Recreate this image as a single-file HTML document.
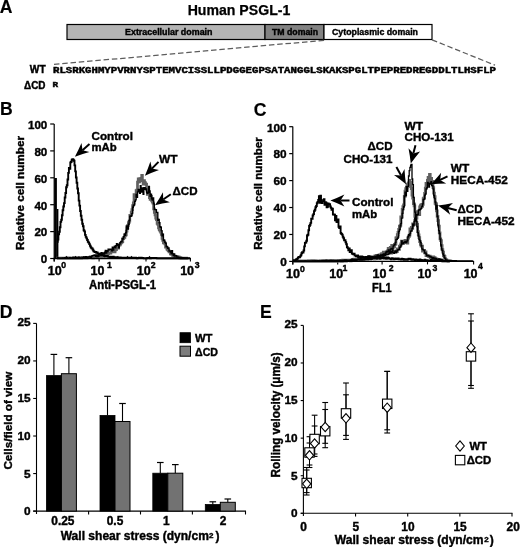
<!DOCTYPE html>
<html><head><meta charset="utf-8"><title>Human PSGL-1 figure</title>
<style>
html,body{margin:0;padding:0;background:#fff;}
svg{display:block;}
text.s{font-family:'Liberation Sans', Arial, Helvetica, sans-serif;font-weight:bold;fill:#000;stroke:#000;stroke-width:0.4px;}
text.m{font-family:'Liberation Mono', 'Courier New', monospace;font-weight:bold;fill:#000;stroke:#000;stroke-width:0.45px;}
</style></head>
<body>
<svg width="520" height="547" viewBox="0 0 520 547">
<rect x="0" y="0" width="520" height="547" fill="#fff"/>
<text class="s" x="-0.2" y="12.5" font-size="17.6" style="stroke-width:0.15px">A</text>
<text class="s" x="187.7" y="14.6" font-size="14" textLength="102.6" lengthAdjust="spacingAndGlyphs" style="stroke-width:0.25px">Human PSGL-1</text>
<rect x="67" y="24.5" width="198" height="15" fill="#b4b4b4" stroke="#000" stroke-width="1.2"/>
<rect x="265" y="24.5" width="59" height="15" fill="#828282" stroke="#000" stroke-width="1.2"/>
<rect x="324" y="24.5" width="108" height="15" fill="#fff" stroke="#000" stroke-width="1.2"/>
<text class="s" x="125" y="35.3" font-size="9" textLength="87.5" lengthAdjust="spacingAndGlyphs">Extracellular domain</text>
<text class="s" x="272" y="35.3" font-size="9" textLength="46" lengthAdjust="spacingAndGlyphs">TM domain</text>
<text class="s" x="332" y="35.3" font-size="9" textLength="86" lengthAdjust="spacingAndGlyphs">Cytoplasmic domain</text>
<line x1="324" y1="40.3" x2="53" y2="64.5" stroke="#5c5c5c" stroke-width="1.25" stroke-dasharray="5.5 2.8"/>
<line x1="432" y1="39.8" x2="495" y2="65.2" stroke="#5c5c5c" stroke-width="1.25" stroke-dasharray="5.5 2.8"/>
<text class="s" x="29.8" y="72.7" font-size="10" textLength="15.8" lengthAdjust="spacingAndGlyphs">WT</text>
<text class="s" x="24" y="88.8" font-size="10" textLength="21.5" lengthAdjust="spacingAndGlyphs">ΔCD</text>
<text class="m" x="53" y="73" font-size="9" textLength="443" lengthAdjust="spacingAndGlyphs">RLSRKGHMYPVRNYSPTEMVCISSLLPDGGEGPSATANGGLSKAKSPGLTPEPREDREGDDLTLHSFLP</text>
<text class="m" x="52.6" y="86.9" font-size="7.8" textLength="5.6" lengthAdjust="spacingAndGlyphs">R</text>
<text class="s" x="0.05" y="115.4" font-size="17.6" style="stroke-width:0.15px">B</text>
<line x1="50.2" y1="258.5" x2="54.2" y2="258.5" stroke="#000" stroke-width="1.2"/>
<text class="s" x="47.3" y="263.3" font-size="11.6" text-anchor="end">0</text>
<line x1="50.2" y1="231.6" x2="54.2" y2="231.6" stroke="#000" stroke-width="1.2"/>
<text class="s" x="47.3" y="236.4" font-size="11.6" text-anchor="end">20</text>
<line x1="50.2" y1="204.7" x2="54.2" y2="204.7" stroke="#000" stroke-width="1.2"/>
<text class="s" x="47.3" y="209.5" font-size="11.6" text-anchor="end">40</text>
<line x1="50.2" y1="177.8" x2="54.2" y2="177.8" stroke="#000" stroke-width="1.2"/>
<text class="s" x="47.3" y="182.6" font-size="11.6" text-anchor="end">60</text>
<line x1="50.2" y1="150.9" x2="54.2" y2="150.9" stroke="#000" stroke-width="1.2"/>
<text class="s" x="47.3" y="155.7" font-size="11.6" text-anchor="end">80</text>
<line x1="50.2" y1="124.0" x2="54.2" y2="124.0" stroke="#000" stroke-width="1.2"/>
<text class="s" x="47.3" y="128.8" font-size="11.6" text-anchor="end">100</text>
<text class="s" font-size="11.7" transform="translate(24.2 250) rotate(-90)" textLength="114" lengthAdjust="spacingAndGlyphs">Relative cell number</text>
<line x1="54.2" y1="258.5" x2="54.2" y2="261.5" stroke="#000" stroke-width="1.1"/>
<line x1="99.1" y1="258.5" x2="99.1" y2="261.5" stroke="#000" stroke-width="1.1"/>
<line x1="146" y1="258.5" x2="146" y2="261.5" stroke="#000" stroke-width="1.1"/>
<line x1="190.4" y1="258.5" x2="190.4" y2="261.5" stroke="#000" stroke-width="1.1"/>
<text class="s" font-size="12.5"><tspan x="47.7" y="274.7">10</tspan><tspan x="61.2" y="268.4" font-size="8.7">0</tspan></text>
<text class="s" font-size="12.5"><tspan x="90.55" y="274.7">10</tspan><tspan x="106.9" y="268.4" font-size="8.7">1</tspan></text>
<text class="s" font-size="12.5"><tspan x="136.85" y="274.7">10</tspan><tspan x="150.7" y="268.4" font-size="8.7">2</tspan></text>
<text class="s" font-size="12.5"><tspan x="180.15" y="274.7">10</tspan><tspan x="194.8" y="268.4" font-size="8.7">3</tspan></text>
<text class="s" x="89" y="289" font-size="12" textLength="67" lengthAdjust="spacingAndGlyphs">Anti-PSGL-1</text>
<line x1="55.6" y1="178" x2="55.6" y2="258.5" stroke="#000" stroke-width="2.6"/>
<line x1="57.6" y1="209" x2="57.6" y2="258.5" stroke="#000" stroke-width="1.6"/>
<polyline fill="none" stroke="#606060" stroke-width="2.7" stroke-linejoin="miter" points="57.0,258.2 57.7,258.2 57.7,258.1 58.4,258.1 58.4,258.2 59.1,258.2 59.1,258.1 59.8,258.1 59.8,258.2 60.5,258.2 60.5,258.2 61.2,258.2 61.2,258.2 61.9,258.2 61.9,258.1 62.6,258.1 62.6,258.1 63.3,258.1 63.3,258.2 64.0,258.2 64.0,258.0 64.7,258.0 64.7,258.2 65.4,258.2 65.4,258.1 66.1,258.1 66.1,258.1 66.8,258.1 66.8,258.2 67.5,258.2 67.5,258.0 68.2,258.0 68.2,258.2 68.9,258.2 68.9,257.8 69.6,257.8 69.6,258.0 70.3,258.0 70.3,258.1 71.0,258.1 71.0,258.2 71.7,258.2 71.7,258.0 72.4,258.0 72.4,258.0 73.1,258.0 73.1,258.2 73.8,258.2 73.8,257.6 74.5,257.6 74.5,258.0 75.2,258.0 75.2,257.7 75.9,257.7 75.9,258.2 76.6,258.2 76.6,257.7 77.3,257.7 77.3,258.2 78.0,258.2 78.0,258.1 78.7,258.1 78.7,257.9 79.4,257.9 79.4,258.0 80.1,258.0 80.1,258.2 80.8,258.2 80.8,258.2 81.5,258.2 81.5,257.7 82.2,257.7 82.2,257.4 82.9,257.4 82.9,257.6 83.6,257.6 83.6,257.8 84.3,257.8 84.3,257.5 85.0,257.5 85.0,258.0 85.7,258.0 85.7,257.5 86.4,257.5 86.4,258.0 87.1,258.0 87.1,257.6 87.8,257.6 87.8,257.6 88.5,257.6 88.5,257.3 89.2,257.3 89.2,257.6 89.9,257.6 89.9,257.1 90.6,257.1 90.6,257.4 91.3,257.4 91.3,257.1 92.0,257.1 92.0,257.1 92.7,257.1 92.7,257.8 93.4,257.8 93.4,257.2 94.1,257.2 94.1,257.2 94.8,257.2 94.8,257.4 95.5,257.4 95.5,257.0 96.2,257.0 96.2,257.4 96.9,257.4 96.9,256.6 97.6,256.6 97.6,256.4 98.3,256.4 98.3,256.4 99.0,256.4 99.0,255.3 99.7,255.3 99.7,256.1 100.4,256.1 100.4,256.0 101.1,256.0 101.1,256.3 101.8,256.3 101.8,255.6 102.5,255.6 102.5,256.1 103.2,256.1 103.2,254.9 103.9,254.9 103.9,255.7 104.6,255.7 104.6,255.1 105.3,255.1 105.3,253.9 106.0,253.9 106.0,254.0 106.7,254.0 106.7,254.2 107.4,254.2 107.4,253.2 108.1,253.2 108.1,253.7 108.8,253.7 108.8,252.8 109.5,252.8 109.5,253.0 110.2,253.0 110.2,253.2 110.9,253.2 110.9,252.0 111.6,252.0 111.6,251.2 112.3,251.2 112.3,251.7 113.0,251.7 113.0,251.8 113.7,251.8 113.7,250.8 114.4,250.8 114.4,251.8 115.1,251.8 115.1,249.8 115.8,249.8 115.8,249.6 116.5,249.6 116.5,246.3 117.2,246.3 117.2,247.9 117.9,247.9 117.9,248.1 118.6,248.1 118.6,244.9 119.3,244.9 119.3,245.1 120.0,245.1 120.0,244.1 120.7,244.1 120.7,243.0 121.4,243.0 121.4,242.1 122.1,242.1 122.1,241.6 122.8,241.6 122.8,238.7 123.5,238.7 123.5,237.8 124.2,237.8 124.2,237.5 124.9,237.5 124.9,235.5 125.6,235.5 125.6,234.8 126.3,234.8 126.3,231.1 127.0,231.1 127.0,227.9 127.7,227.9 127.7,225.4 128.4,225.4 128.4,222.7 129.1,222.7 129.1,221.2 129.8,221.2 129.8,215.3 130.5,215.3 130.5,215.5 131.2,215.5 131.2,212.0 131.9,212.0 131.9,209.6 132.6,209.6 132.6,205.5 133.3,205.5 133.3,202.8 134.0,202.8 134.0,194.5 134.7,194.5 134.7,194.7 135.4,194.7 135.4,196.3 136.1,196.3 136.1,190.6 136.8,190.6 136.8,190.1 137.5,190.1 137.5,182.2 138.2,182.2 138.2,178.9 138.9,178.9 138.9,181.9 139.6,181.9 139.6,178.5 140.3,178.5 140.3,180.1 141.0,180.1 141.0,178.4 141.7,178.4 141.7,175.3 142.4,175.3 142.4,181.0 143.1,181.0 143.1,184.1 143.8,184.1 143.8,180.5 144.5,180.5 144.5,182.4 145.2,182.4 145.2,183.6 145.9,183.6 145.9,184.3 146.6,184.3 146.6,189.8 147.3,189.8 147.3,194.3 148.0,194.3 148.0,189.0 148.7,189.0 148.7,194.1 149.4,194.1 149.4,197.7 150.1,197.7 150.1,199.5 150.8,199.5 150.8,196.4 151.5,196.4 151.5,200.3 152.2,200.3 152.2,202.0 152.9,202.0 152.9,203.1 153.6,203.1 153.6,208.8 154.3,208.8 154.3,212.5 155.0,212.5 155.0,214.9 155.7,214.9 155.7,218.2 156.4,218.2 156.4,219.6 157.1,219.6 157.1,223.3 157.8,223.3 157.8,224.4 158.5,224.4 158.5,227.8 159.2,227.8 159.2,229.6 159.9,229.6 159.9,230.9 160.6,230.9 160.6,232.2 161.3,232.2 161.3,234.3 162.0,234.3 162.0,238.4 162.7,238.4 162.7,240.3 163.4,240.3 163.4,242.9 164.1,242.9 164.1,242.8 164.8,242.8 164.8,243.8 165.5,243.8 165.5,247.2 166.2,247.2 166.2,247.2 166.9,247.2 166.9,249.2 167.6,249.2 167.6,250.0 168.3,250.0 168.3,250.7 169.0,250.7 169.0,251.9 169.7,251.9 169.7,251.8 170.4,251.8 170.4,254.0 171.1,254.0 171.1,254.1 171.8,254.1 171.8,254.3 172.5,254.3 172.5,255.3 173.2,255.3 173.2,255.0 173.9,255.0 173.9,256.3 174.6,256.3 174.6,256.0 175.3,256.0 175.3,257.0 176.0,257.0 176.0,256.8 176.7,256.8 176.7,256.9 177.4,256.9 177.4,256.6 178.1,256.6 178.1,257.1 178.8,257.1 178.8,257.2 179.5,257.2 179.5,257.8 180.2,257.8 180.2,257.5 180.9,257.5 180.9,258.1 181.6,258.1 181.6,258.1 182.3,258.1 182.3,258.2 183.0,258.2 183.0,258.1 183.7,258.1 183.7,258.1 184.4,258.1 184.4,258.2 185.1,258.2 185.1,258.2 185.8,258.2 185.8,258.2 186.5,258.2 186.5,258.2 187.2,258.2 187.2,258.2 187.9,258.2 187.9,258.2"/>
<polyline fill="none" stroke="#000" stroke-width="1.4" stroke-linejoin="miter" points="57.0,257.6 57.7,257.6 57.7,258.0 58.4,258.0 58.4,258.1 59.1,258.1 59.1,258.2 59.8,258.2 59.8,258.1 60.5,258.1 60.5,258.1 61.2,258.1 61.2,258.1 61.9,258.1 61.9,258.2 62.6,258.2 62.6,258.0 63.3,258.0 63.3,258.2 64.0,258.2 64.0,258.2 64.7,258.2 64.7,257.8 65.4,257.8 65.4,257.8 66.1,257.8 66.1,257.5 66.8,257.5 66.8,258.0 67.5,258.0 67.5,258.1 68.2,258.1 68.2,258.1 68.9,258.1 68.9,258.2 69.6,258.2 69.6,257.7 70.3,257.7 70.3,258.2 71.0,258.2 71.0,258.2 71.7,258.2 71.7,258.0 72.4,258.0 72.4,257.5 73.1,257.5 73.1,257.8 73.8,257.8 73.8,258.2 74.5,258.2 74.5,258.1 75.2,258.1 75.2,257.7 75.9,257.7 75.9,257.9 76.6,257.9 76.6,258.1 77.3,258.1 77.3,257.9 78.0,257.9 78.0,257.6 78.7,257.6 78.7,257.2 79.4,257.2 79.4,258.2 80.1,258.2 80.1,258.0 80.8,258.0 80.8,258.0 81.5,258.0 81.5,258.2 82.2,258.2 82.2,257.9 82.9,257.9 82.9,257.8 83.6,257.8 83.6,256.9 84.3,256.9 84.3,257.3 85.0,257.3 85.0,257.9 85.7,257.9 85.7,256.8 86.4,256.8 86.4,257.1 87.1,257.1 87.1,257.7 87.8,257.7 87.8,257.1 88.5,257.1 88.5,257.0 89.2,257.0 89.2,257.1 89.9,257.1 89.9,256.5 90.6,256.5 90.6,257.7 91.3,257.7 91.3,256.5 92.0,256.5 92.0,255.6 92.7,255.6 92.7,255.6 93.4,255.6 93.4,255.3 94.1,255.3 94.1,255.2 94.8,255.2 94.8,254.9 95.5,254.9 95.5,256.4 96.2,256.4 96.2,254.9 96.9,254.9 96.9,256.6 97.6,256.6 97.6,255.5 98.3,255.5 98.3,256.3 99.0,256.3 99.0,253.9 99.7,253.9 99.7,253.5 100.4,253.5 100.4,254.4 101.1,254.4 101.1,252.6 101.8,252.6 101.8,254.3 102.5,254.3 102.5,253.3 103.2,253.3 103.2,253.0 103.9,253.0 103.9,253.9 104.6,253.9 104.6,252.2 105.3,252.2 105.3,250.4 106.0,250.4 106.0,253.0 106.7,253.0 106.7,250.7 107.4,250.7 107.4,251.5 108.1,251.5 108.1,249.1 108.8,249.1 108.8,250.1 109.5,250.1 109.5,249.5 110.2,249.5 110.2,249.2 110.9,249.2 110.9,249.3 111.6,249.3 111.6,250.9 112.3,250.9 112.3,247.1 113.0,247.1 113.0,250.0 113.7,250.0 113.7,247.4 114.4,247.4 114.4,246.3 115.1,246.3 115.1,247.7 115.8,247.7 115.8,245.8 116.5,245.8 116.5,243.8 117.2,243.8 117.2,244.8 117.9,244.8 117.9,245.4 118.6,245.4 118.6,247.8 119.3,247.8 119.3,244.1 120.0,244.1 120.0,242.8 120.7,242.8 120.7,241.9 121.4,241.9 121.4,241.8 122.1,241.8 122.1,238.6 122.8,238.6 122.8,239.0 123.5,239.0 123.5,236.8 124.2,236.8 124.2,234.0 124.9,234.0 124.9,235.4 125.6,235.4 125.6,232.8 126.3,232.8 126.3,226.0 127.0,226.0 127.0,226.5 127.7,226.5 127.7,229.1 128.4,229.1 128.4,224.2 129.1,224.2 129.1,220.4 129.8,220.4 129.8,216.3 130.5,216.3 130.5,216.4 131.2,216.4 131.2,215.6 131.9,215.6 131.9,213.6 132.6,213.6 132.6,207.2 133.3,207.2 133.3,205.3 134.0,205.3 134.0,204.9 134.7,204.9 134.7,201.4 135.4,201.4 135.4,199.9 136.1,199.9 136.1,194.5 136.8,194.5 136.8,197.2 137.5,197.2 137.5,191.9 138.2,191.9 138.2,189.5 138.9,189.5 138.9,189.6 139.6,189.6 139.6,193.2 140.3,193.2 140.3,185.8 141.0,185.8 141.0,192.0 141.7,192.0 141.7,188.0 142.4,188.0 142.4,191.4 143.1,191.4 143.1,194.3 143.8,194.3 143.8,187.7 144.5,187.7 144.5,187.7 145.2,187.7 145.2,189.4 145.9,189.4 145.9,188.9 146.6,188.9 146.6,192.5 147.3,192.5 147.3,193.4 148.0,193.4 148.0,192.3 148.7,192.3 148.7,186.5 149.4,186.5 149.4,190.9 150.1,190.9 150.1,196.2 150.8,196.2 150.8,194.1 151.5,194.1 151.5,198.7 152.2,198.7 152.2,200.1 152.9,200.1 152.9,197.9 153.6,197.9 153.6,203.9 154.3,203.9 154.3,209.4 155.0,209.4 155.0,209.6 155.7,209.6 155.7,209.7 156.4,209.7 156.4,212.5 157.1,212.5 157.1,212.5 157.8,212.5 157.8,220.2 158.5,220.2 158.5,219.4 159.2,219.4 159.2,222.8 159.9,222.8 159.9,226.7 160.6,226.7 160.6,227.2 161.3,227.2 161.3,230.6 162.0,230.6 162.0,235.7 162.7,235.7 162.7,234.3 163.4,234.3 163.4,240.5 164.1,240.5 164.1,240.3 164.8,240.3 164.8,242.2 165.5,242.2 165.5,243.3 166.2,243.3 166.2,246.5 166.9,246.5 166.9,246.9 167.6,246.9 167.6,248.3 168.3,248.3 168.3,248.0 169.0,248.0 169.0,251.1 169.7,251.1 169.7,250.9 170.4,250.9 170.4,252.0 171.1,252.0 171.1,253.7 171.8,253.7 171.8,250.7 172.5,250.7 172.5,253.9 173.2,253.9 173.2,255.6 173.9,255.6 173.9,253.9 174.6,253.9 174.6,256.1 175.3,256.1 175.3,255.6 176.0,255.6 176.0,255.6 176.7,255.6 176.7,256.9 177.4,256.9 177.4,257.0 178.1,257.0 178.1,257.4 178.8,257.4 178.8,257.4 179.5,257.4 179.5,258.1 180.2,258.1 180.2,258.1 180.9,258.1 180.9,257.9 181.6,257.9 181.6,257.7 182.3,257.7 182.3,257.9 183.0,257.9 183.0,257.8 183.7,257.8 183.7,258.1 184.4,258.1 184.4,258.2 185.1,258.2 185.1,258.2 185.8,258.2 185.8,258.2 186.5,258.2 186.5,258.2 187.2,258.2 187.2,258.2 187.9,258.2 187.9,258.2"/>
<polyline fill="none" stroke="#000" stroke-width="1.9" stroke-linejoin="miter" points="57.0,241.8 57.7,241.8 57.7,239.6 58.4,239.6 58.4,234.2 59.1,234.2 59.1,231.8 59.8,231.8 59.8,227.3 60.5,227.3 60.5,221.9 61.2,221.9 61.2,219.8 61.9,219.8 61.9,215.3 62.6,215.3 62.6,210.3 63.3,210.3 63.3,206.5 64.0,206.5 64.0,203.1 64.7,203.1 64.7,197.5 65.4,197.5 65.4,193.0 66.1,193.0 66.1,187.2 66.8,187.2 66.8,185.2 67.5,185.2 67.5,179.5 68.2,179.5 68.2,172.9 68.9,172.9 68.9,167.9 69.6,167.9 69.6,168.7 70.3,168.7 70.3,162.4 71.0,162.4 71.0,161.7 71.7,161.7 71.7,159.6 72.4,159.6 72.4,159.2 73.1,159.2 73.1,159.8 73.8,159.8 73.8,160.7 74.5,160.7 74.5,165.4 75.2,165.4 75.2,171.4 75.9,171.4 75.9,177.5 76.6,177.5 76.6,182.7 77.3,182.7 77.3,188.5 78.0,188.5 78.0,193.3 78.7,193.3 78.7,200.6 79.4,200.6 79.4,205.6 80.1,205.6 80.1,211.0 80.8,211.0 80.8,215.7 81.5,215.7 81.5,219.8 82.2,219.8 82.2,223.8 82.9,223.8 82.9,226.3 83.6,226.3 83.6,230.2 84.3,230.2 84.3,231.4 85.0,231.4 85.0,234.9 85.7,234.9 85.7,236.9 86.4,236.9 86.4,238.4 87.1,238.4 87.1,240.0 87.8,240.0 87.8,241.7 88.5,241.7 88.5,242.6 89.2,242.6 89.2,244.1 89.9,244.1 89.9,245.8 90.6,245.8 90.6,247.3 91.3,247.3 91.3,248.2 92.0,248.2 92.0,248.5 92.7,248.5 92.7,249.8 93.4,249.8 93.4,251.2 94.1,251.2 94.1,251.6 94.8,251.6 94.8,252.1 95.5,252.1 95.5,252.0 96.2,252.0 96.2,252.9 96.9,252.9 96.9,252.5 97.6,252.5 97.6,253.4 98.3,253.4 98.3,253.9 99.0,253.9 99.0,254.4 99.7,254.4 99.7,254.3 100.4,254.3 100.4,254.9 101.1,254.9 101.1,255.2 101.8,255.2 101.8,255.1 102.5,255.1 102.5,255.4 103.2,255.4 103.2,255.3 103.9,255.3 103.9,255.8 104.6,255.8 104.6,256.6 105.3,256.6 105.3,255.9 106.0,255.9 106.0,256.6 106.7,256.6 106.7,256.0 107.4,256.0 107.4,256.1 108.1,256.1 108.1,256.7 108.8,256.7 108.8,256.9 109.5,256.9 109.5,257.0 110.2,257.0 110.2,256.7 110.9,256.7 110.9,257.0 111.6,257.0 111.6,257.1 112.3,257.1 112.3,257.1 113.0,257.1 113.0,256.8 113.7,256.8 113.7,257.1 114.4,257.1 114.4,257.1 115.1,257.1 115.1,257.2 115.8,257.2 115.8,257.2 116.5,257.2 116.5,257.3 117.2,257.3 117.2,257.6 117.9,257.6 117.9,257.6 118.6,257.6 118.6,257.7 119.3,257.7 119.3,257.7 120.0,257.7 120.0,257.5 120.7,257.5 120.7,257.8 121.4,257.8 121.4,257.7 122.1,257.7 122.1,257.8 122.8,257.8 122.8,257.8 123.5,257.8 123.5,257.6 124.2,257.6 124.2,257.8 124.9,257.8 124.9,257.8 125.6,257.8 125.6,257.7 126.3,257.7 126.3,257.7 127.0,257.7 127.0,257.7 127.7,257.7 127.7,257.8 128.4,257.8 128.4,258.0 129.1,258.0 129.1,257.7 129.8,257.7 129.8,257.8 130.5,257.8 130.5,257.7 131.2,257.7 131.2,257.9 131.9,257.9 131.9,257.6 132.6,257.6 132.6,258.0 133.3,258.0 133.3,257.8 134.0,257.8 134.0,257.9 134.7,257.9 134.7,257.9 135.4,257.9 135.4,257.8 136.1,257.8 136.1,257.9 136.8,257.9 136.8,258.2 137.5,258.2 137.5,258.1 138.2,258.1 138.2,257.9 138.9,257.9 138.9,257.7 139.6,257.7 139.6,258.1 140.3,258.1 140.3,258.0 141.0,258.0 141.0,257.8 141.7,257.8 141.7,257.9 142.4,257.9 142.4,258.0 143.1,258.0 143.1,258.1 143.8,258.1 143.8,258.2 144.5,258.2 144.5,258.1 145.2,258.1 145.2,258.1 145.9,258.1 145.9,258.2 146.6,258.2 146.6,258.2 147.3,258.2 147.3,258.0 148.0,258.0 148.0,258.1 148.7,258.1 148.7,258.1 149.4,258.1 149.4,258.1 150.1,258.1 150.1,258.2 150.8,258.2 150.8,258.0 151.5,258.0 151.5,258.0 152.2,258.0 152.2,257.9 152.9,257.9 152.9,258.1 153.6,258.1 153.6,258.1 154.3,258.1 154.3,258.0 155.0,258.0 155.0,258.0 155.7,258.0 155.7,258.0 156.4,258.0 156.4,258.1 157.1,258.1 157.1,258.2 157.8,258.2 157.8,258.2 158.5,258.2 158.5,258.1 159.2,258.1 159.2,258.2 159.9,258.2 159.9,258.2 160.6,258.2 160.6,258.2 161.3,258.2 161.3,258.2 162.0,258.2 162.0,258.1 162.7,258.1 162.7,258.2 163.4,258.2 163.4,258.2 164.1,258.2 164.1,258.2 164.8,258.2 164.8,258.2 165.5,258.2 165.5,258.2 166.2,258.2 166.2,258.1 166.9,258.1 166.9,258.2 167.6,258.2 167.6,258.2 168.3,258.2 168.3,258.2 169.0,258.2 169.0,258.2 169.7,258.2 169.7,258.2 170.4,258.2 170.4,258.2 171.1,258.2 171.1,258.2 171.8,258.2 171.8,258.2 172.5,258.2 172.5,258.2 173.2,258.2 173.2,258.2 173.9,258.2 173.9,258.2 174.6,258.2 174.6,258.2 175.3,258.2 175.3,258.2 176.0,258.2 176.0,258.2 176.7,258.2 176.7,258.2 177.4,258.2 177.4,258.2 178.1,258.2 178.1,258.2 178.8,258.2 178.8,258.2 179.5,258.2 179.5,258.2 180.2,258.2 180.2,258.2 180.9,258.2 180.9,258.2 181.6,258.2 181.6,258.2 182.3,258.2 182.3,258.2 183.0,258.2 183.0,258.2 183.7,258.2 183.7,258.2 184.4,258.2 184.4,258.2 185.1,258.2 185.1,258.2 185.8,258.2 185.8,258.2 186.5,258.2 186.5,258.2 187.2,258.2 187.2,258.2 187.9,258.2 187.9,258.2 188.6,258.2 188.6,258.2 189.3,258.2 189.3,258.2 190.0,258.2 190.0,258.2"/>
<polygon points="64.5,258.5 66.5,255.7 68.5,258.5" fill="#000"/>
<polygon points="73.5,258.5 75.5,255.7 77.5,258.5" fill="#000"/>
<polygon points="116,258.5 118,255.7 120,258.5" fill="#000"/>
<polygon points="125.5,258.5 127.5,255.7 129.5,258.5" fill="#000"/>
<polygon points="129.5,258.5 131.5,255.7 133.5,258.5" fill="#000"/>
<polygon points="147.5,258.5 149.5,255.7 151.5,258.5" fill="#000"/>
<line x1="54.2" y1="124" x2="54.2" y2="261.5" stroke="#000" stroke-width="1.2"/>
<line x1="53.6" y1="258.5" x2="191" y2="258.5" stroke="#000" stroke-width="1.3"/>
<text class="s" x="91.5" y="140" font-size="11.5" textLength="41.5" lengthAdjust="spacingAndGlyphs">Control</text>
<text class="s" x="91.5" y="151.3" font-size="11.5" textLength="25.3" lengthAdjust="spacingAndGlyphs">mAb</text>
<line x1="89.5" y1="144" x2="82.5" y2="150.2" stroke="#000" stroke-width="2.0"/>
<path d="M74.9,156.8 Q78.4,150.2 81.5,143.1 L82.5,150.2 L89.4,152.1 Q81.9,154.2 74.9,156.8Z" fill="#000"/>
<text class="s" x="159" y="162.5" font-size="11.5" textLength="18.5" lengthAdjust="spacingAndGlyphs">WT</text>
<line x1="158.5" y1="161.9" x2="151.9" y2="168.6" stroke="#000" stroke-width="2.0"/>
<path d="M144.9,175.8 Q147.9,169.0 150.4,161.6 L151.9,168.6 L159.0,170.0 Q151.7,172.6 144.9,175.8Z" fill="#000"/>
<text class="s" x="172.5" y="195" font-size="11.5" textLength="25" lengthAdjust="spacingAndGlyphs">ΔCD</text>
<line x1="170.8" y1="194.2" x2="163.2" y2="199.5" stroke="#000" stroke-width="2.0"/>
<path d="M155.0,205.3 Q159.2,199.1 163.0,192.3 L163.2,199.5 L169.9,202.2 Q162.2,203.4 155.0,205.3Z" fill="#000"/>
<text class="s" x="253.8" y="115.5" font-size="17.6" style="stroke-width:0.15px">C</text>
<line x1="289.2" y1="261.4" x2="292.8" y2="261.4" stroke="#000" stroke-width="1.2"/>
<text class="s" x="286.7" y="266.2" font-size="11.8" text-anchor="end">0</text>
<line x1="289.2" y1="234.45999999999998" x2="292.8" y2="234.45999999999998" stroke="#000" stroke-width="1.2"/>
<text class="s" x="286.7" y="239.3" font-size="11.8" text-anchor="end">20</text>
<line x1="289.2" y1="207.51999999999998" x2="292.8" y2="207.51999999999998" stroke="#000" stroke-width="1.2"/>
<text class="s" x="286.7" y="212.3" font-size="11.8" text-anchor="end">40</text>
<line x1="289.2" y1="180.57999999999998" x2="292.8" y2="180.57999999999998" stroke="#000" stroke-width="1.2"/>
<text class="s" x="286.7" y="185.4" font-size="11.8" text-anchor="end">60</text>
<line x1="289.2" y1="153.64" x2="292.8" y2="153.64" stroke="#000" stroke-width="1.2"/>
<text class="s" x="286.7" y="158.4" font-size="11.8" text-anchor="end">80</text>
<line x1="289.2" y1="126.69999999999999" x2="292.8" y2="126.69999999999999" stroke="#000" stroke-width="1.2"/>
<text class="s" x="286.7" y="131.5" font-size="11.8" text-anchor="end">100</text>
<text class="s" font-size="11.7" transform="translate(261.9 249.8) rotate(-90)" textLength="112.5" lengthAdjust="spacingAndGlyphs">Relative cell number</text>
<line x1="292.8" y1="261.4" x2="292.8" y2="264.4" stroke="#000" stroke-width="1.1"/>
<line x1="337.7" y1="261.4" x2="337.7" y2="264.4" stroke="#000" stroke-width="1.1"/>
<line x1="382.1" y1="261.4" x2="382.1" y2="264.4" stroke="#000" stroke-width="1.1"/>
<line x1="427.5" y1="261.4" x2="427.5" y2="264.4" stroke="#000" stroke-width="1.1"/>
<line x1="473.6" y1="261.4" x2="473.6" y2="264.4" stroke="#000" stroke-width="1.1"/>
<text class="s" font-size="12.5"><tspan x="286.05" y="277.7">10</tspan><tspan x="299.9" y="271.6" font-size="8.7">0</tspan></text>
<text class="s" font-size="12.5"><tspan x="329.25" y="277.7">10</tspan><tspan x="342.6" y="271.2" font-size="8.7">1</tspan></text>
<text class="s" font-size="12.5"><tspan x="372.45" y="277.7">10</tspan><tspan x="388.7" y="271.2" font-size="8.7">2</tspan></text>
<text class="s" font-size="12.5"><tspan x="417.55" y="277.7">10</tspan><tspan x="432.4" y="271.2" font-size="8.7">3</tspan></text>
<text class="s" font-size="12.5"><tspan x="463.65" y="277.7">10</tspan><tspan x="478.1" y="269.2" font-size="8.7">4</tspan></text>
<text class="s" x="372" y="292.3" font-size="12" textLength="19.5" lengthAdjust="spacingAndGlyphs">FL1</text>
<polyline fill="none" stroke="#606060" stroke-width="2.8" stroke-linejoin="miter" points="293.0,261.1 293.7,261.1 293.7,261.1 294.4,261.1 294.4,261.1 295.1,261.1 295.1,261.1 295.8,261.1 295.8,261.1 296.5,261.1 296.5,261.1 297.2,261.1 297.2,261.1 297.9,261.1 297.9,261.1 298.6,261.1 298.6,261.1 299.3,261.1 299.3,261.1 300.0,261.1 300.0,261.1 300.7,261.1 300.7,261.1 301.4,261.1 301.4,261.1 302.1,261.1 302.1,261.1 302.8,261.1 302.8,261.1 303.5,261.1 303.5,261.1 304.2,261.1 304.2,261.1 304.9,261.1 304.9,261.1 305.6,261.1 305.6,261.1 306.3,261.1 306.3,261.1 307.0,261.1 307.0,261.1 307.7,261.1 307.7,261.1 308.4,261.1 308.4,261.0 309.1,261.0 309.1,261.0 309.8,261.0 309.8,261.1 310.5,261.1 310.5,261.1 311.2,261.1 311.2,261.0 311.9,261.0 311.9,261.0 312.6,261.0 312.6,261.1 313.3,261.1 313.3,261.1 314.0,261.1 314.0,261.1 314.7,261.1 314.7,261.1 315.4,261.1 315.4,260.9 316.1,260.9 316.1,261.1 316.8,261.1 316.8,261.1 317.5,261.1 317.5,261.1 318.2,261.1 318.2,261.1 318.9,261.1 318.9,261.1 319.6,261.1 319.6,261.1 320.3,261.1 320.3,261.1 321.0,261.1 321.0,261.1 321.7,261.1 321.7,261.1 322.4,261.1 322.4,261.0 323.1,261.0 323.1,261.1 323.8,261.1 323.8,260.6 324.5,260.6 324.5,261.0 325.2,261.0 325.2,260.7 325.9,260.7 325.9,260.6 326.6,260.6 326.6,260.9 327.3,260.9 327.3,261.1 328.0,261.1 328.0,261.1 328.7,261.1 328.7,261.1 329.4,261.1 329.4,260.9 330.1,260.9 330.1,260.8 330.8,260.8 330.8,261.0 331.5,261.0 331.5,261.0 332.2,261.0 332.2,260.3 332.9,260.3 332.9,260.8 333.6,260.8 333.6,261.1 334.3,261.1 334.3,260.7 335.0,260.7 335.0,261.0 335.7,261.0 335.7,261.1 336.4,261.1 336.4,260.7 337.1,260.7 337.1,260.9 337.8,260.9 337.8,260.8 338.5,260.8 338.5,260.4 339.2,260.4 339.2,260.7 339.9,260.7 339.9,260.9 340.6,260.9 340.6,260.3 341.3,260.3 341.3,261.1 342.0,261.1 342.0,260.9 342.7,260.9 342.7,260.2 343.4,260.2 343.4,260.1 344.1,260.1 344.1,260.5 344.8,260.5 344.8,260.6 345.5,260.6 345.5,260.2 346.2,260.2 346.2,260.2 346.9,260.2 346.9,260.1 347.6,260.1 347.6,260.3 348.3,260.3 348.3,260.5 349.0,260.5 349.0,260.3 349.7,260.3 349.7,260.1 350.4,260.1 350.4,260.1 351.1,260.1 351.1,260.1 351.8,260.1 351.8,259.9 352.5,259.9 352.5,260.4 353.2,260.4 353.2,259.4 353.9,259.4 353.9,259.1 354.6,259.1 354.6,259.8 355.3,259.8 355.3,260.1 356.0,260.1 356.0,259.3 356.7,259.3 356.7,259.2 357.4,259.2 357.4,259.4 358.1,259.4 358.1,258.9 358.8,258.9 358.8,259.4 359.5,259.4 359.5,259.6 360.2,259.6 360.2,258.5 360.9,258.5 360.9,259.3 361.6,259.3 361.6,259.2 362.3,259.2 362.3,259.9 363.0,259.9 363.0,259.0 363.7,259.0 363.7,259.1 364.4,259.1 364.4,258.8 365.1,258.8 365.1,258.3 365.8,258.3 365.8,258.5 366.5,258.5 366.5,259.0 367.2,259.0 367.2,257.7 367.9,257.7 367.9,257.9 368.6,257.9 368.6,257.7 369.3,257.7 369.3,257.9 370.0,257.9 370.0,257.7 370.7,257.7 370.7,258.3 371.4,258.3 371.4,258.3 372.1,258.3 372.1,257.7 372.8,257.7 372.8,257.6 373.5,257.6 373.5,256.9 374.2,256.9 374.2,258.8 374.9,258.8 374.9,257.0 375.6,257.0 375.6,257.0 376.3,257.0 376.3,255.5 377.0,255.5 377.0,256.3 377.7,256.3 377.7,256.0 378.4,256.0 378.4,255.3 379.1,255.3 379.1,254.8 379.8,254.8 379.8,256.2 380.5,256.2 380.5,255.5 381.2,255.5 381.2,253.8 381.9,253.8 381.9,253.7 382.6,253.7 382.6,253.7 383.3,253.7 383.3,252.2 384.0,252.2 384.0,254.4 384.7,254.4 384.7,252.8 385.4,252.8 385.4,252.9 386.1,252.9 386.1,251.8 386.8,251.8 386.8,252.3 387.5,252.3 387.5,251.0 388.2,251.0 388.2,248.4 388.9,248.4 388.9,249.7 389.6,249.7 389.6,249.6 390.3,249.6 390.3,247.5 391.0,247.5 391.0,247.7 391.7,247.7 391.7,245.3 392.4,245.3 392.4,247.5 393.1,247.5 393.1,246.8 393.8,246.8 393.8,246.9 394.5,246.9 394.5,244.4 395.2,244.4 395.2,244.2 395.9,244.2 395.9,238.0 396.6,238.0 396.6,237.7 397.3,237.7 397.3,234.7 398.0,234.7 398.0,232.4 398.7,232.4 398.7,229.4 399.4,229.4 399.4,226.5 400.1,226.5 400.1,225.4 400.8,225.4 400.8,216.9 401.5,216.9 401.5,217.2 402.2,217.2 402.2,209.3 402.9,209.3 402.9,206.7 403.6,206.7 403.6,204.9 404.3,204.9 404.3,196.5 405.0,196.5 405.0,191.2 405.7,191.2 405.7,188.7 406.4,188.7 406.4,187.1 407.1,187.1 407.1,184.5 407.8,184.5 407.8,184.0 408.5,184.0 408.5,182.8 409.2,182.8 409.2,180.5 409.9,180.5 409.9,182.1 410.6,182.1 410.6,186.6 411.3,186.6 411.3,188.5 412.0,188.5 412.0,195.2 412.7,195.2 412.7,198.1 413.4,198.1 413.4,203.7 414.1,203.7 414.1,205.9 414.8,205.9 414.8,216.4 415.5,216.4 415.5,214.1 416.2,214.1 416.2,222.7 416.9,222.7 416.9,224.4 417.6,224.4 417.6,231.6 418.3,231.6 418.3,234.9 419.0,234.9 419.0,237.6 419.7,237.6 419.7,241.7 420.4,241.7 420.4,244.4 421.1,244.4 421.1,246.1 421.8,246.1 421.8,246.2 422.5,246.2 422.5,251.1 423.2,251.1 423.2,250.7 423.9,250.7 423.9,250.4 424.6,250.4 424.6,252.8 425.3,252.8 425.3,252.0 426.0,252.0 426.0,255.6 426.7,255.6 426.7,255.5 427.4,255.5 427.4,255.3 428.1,255.3 428.1,256.1 428.8,256.1 428.8,256.5 429.5,256.5 429.5,256.1 430.2,256.1 430.2,257.5 430.9,257.5 430.9,257.0 431.6,257.0 431.6,257.4 432.3,257.4 432.3,257.9 433.0,257.9 433.0,257.0 433.7,257.0 433.7,258.6 434.4,258.6 434.4,257.6 435.1,257.6 435.1,259.1 435.8,259.1 435.8,258.8 436.5,258.8 436.5,259.1 437.2,259.1 437.2,259.7 437.9,259.7 437.9,259.3 438.6,259.3 438.6,259.3 439.3,259.3 439.3,259.7 440.0,259.7 440.0,260.1 440.7,260.1 440.7,259.8 441.4,259.8 441.4,260.1 442.1,260.1 442.1,260.3 442.8,260.3 442.8,261.1 443.5,261.1 443.5,260.6 444.2,260.6 444.2,260.5 444.9,260.5 444.9,261.0 445.6,261.0 445.6,261.1 446.3,261.1 446.3,261.1 447.0,261.1 447.0,261.1 447.7,261.1 447.7,261.1 448.4,261.1 448.4,261.1 449.1,261.1 449.1,261.1 449.8,261.1 449.8,261.1"/>
<polyline fill="none" stroke="#606060" stroke-width="2.8" stroke-linejoin="miter" points="293.0,261.1 293.7,261.1 293.7,261.1 294.4,261.1 294.4,261.1 295.1,261.1 295.1,261.1 295.8,261.1 295.8,261.1 296.5,261.1 296.5,261.1 297.2,261.1 297.2,261.1 297.9,261.1 297.9,261.1 298.6,261.1 298.6,261.1 299.3,261.1 299.3,261.1 300.0,261.1 300.0,261.1 300.7,261.1 300.7,261.1 301.4,261.1 301.4,261.1 302.1,261.1 302.1,261.1 302.8,261.1 302.8,261.1 303.5,261.1 303.5,261.1 304.2,261.1 304.2,261.1 304.9,261.1 304.9,261.1 305.6,261.1 305.6,261.1 306.3,261.1 306.3,261.1 307.0,261.1 307.0,261.1 307.7,261.1 307.7,261.1 308.4,261.1 308.4,261.1 309.1,261.1 309.1,261.1 309.8,261.1 309.8,261.1 310.5,261.1 310.5,261.1 311.2,261.1 311.2,261.1 311.9,261.1 311.9,261.0 312.6,261.0 312.6,261.0 313.3,261.0 313.3,261.0 314.0,261.0 314.0,261.1 314.7,261.1 314.7,261.1 315.4,261.1 315.4,261.1 316.1,261.1 316.1,261.1 316.8,261.1 316.8,261.1 317.5,261.1 317.5,261.1 318.2,261.1 318.2,261.1 318.9,261.1 318.9,261.1 319.6,261.1 319.6,261.1 320.3,261.1 320.3,260.8 321.0,260.8 321.0,261.0 321.7,261.0 321.7,261.1 322.4,261.1 322.4,260.9 323.1,260.9 323.1,261.1 323.8,261.1 323.8,261.1 324.5,261.1 324.5,260.8 325.2,260.8 325.2,261.1 325.9,261.1 325.9,261.1 326.6,261.1 326.6,261.1 327.3,261.1 327.3,260.7 328.0,260.7 328.0,260.6 328.7,260.6 328.7,260.9 329.4,260.9 329.4,260.6 330.1,260.6 330.1,261.1 330.8,261.1 330.8,261.0 331.5,261.0 331.5,260.7 332.2,260.7 332.2,261.0 332.9,261.0 332.9,260.9 333.6,260.9 333.6,260.9 334.3,260.9 334.3,260.8 335.0,260.8 335.0,260.9 335.7,260.9 335.7,261.1 336.4,261.1 336.4,261.0 337.1,261.0 337.1,261.0 337.8,261.0 337.8,260.8 338.5,260.8 338.5,261.1 339.2,261.1 339.2,261.0 339.9,261.0 339.9,260.6 340.6,260.6 340.6,260.8 341.3,260.8 341.3,260.3 342.0,260.3 342.0,260.8 342.7,260.8 342.7,261.1 343.4,261.1 343.4,260.6 344.1,260.6 344.1,260.8 344.8,260.8 344.8,260.9 345.5,260.9 345.5,261.1 346.2,261.1 346.2,260.8 346.9,260.8 346.9,260.6 347.6,260.6 347.6,260.7 348.3,260.7 348.3,260.7 349.0,260.7 349.0,260.6 349.7,260.6 349.7,260.7 350.4,260.7 350.4,260.9 351.1,260.9 351.1,260.5 351.8,260.5 351.8,260.4 352.5,260.4 352.5,259.8 353.2,259.8 353.2,260.3 353.9,260.3 353.9,260.5 354.6,260.5 354.6,259.7 355.3,259.7 355.3,259.8 356.0,259.8 356.0,260.1 356.7,260.1 356.7,260.2 357.4,260.2 357.4,259.2 358.1,259.2 358.1,260.3 358.8,260.3 358.8,259.8 359.5,259.8 359.5,259.3 360.2,259.3 360.2,259.8 360.9,259.8 360.9,259.3 361.6,259.3 361.6,259.0 362.3,259.0 362.3,259.2 363.0,259.2 363.0,259.5 363.7,259.5 363.7,259.2 364.4,259.2 364.4,258.8 365.1,258.8 365.1,258.2 365.8,258.2 365.8,259.1 366.5,259.1 366.5,257.8 367.2,257.8 367.2,258.8 367.9,258.8 367.9,257.6 368.6,257.6 368.6,257.1 369.3,257.1 369.3,257.5 370.0,257.5 370.0,258.1 370.7,258.1 370.7,257.1 371.4,257.1 371.4,257.2 372.1,257.2 372.1,257.5 372.8,257.5 372.8,257.8 373.5,257.8 373.5,257.8 374.2,257.8 374.2,257.5 374.9,257.5 374.9,256.0 375.6,256.0 375.6,256.8 376.3,256.8 376.3,256.6 377.0,256.6 377.0,256.8 377.7,256.8 377.7,256.1 378.4,256.1 378.4,256.2 379.1,256.2 379.1,256.2 379.8,256.2 379.8,255.4 380.5,255.4 380.5,255.6 381.2,255.6 381.2,254.9 381.9,254.9 381.9,254.9 382.6,254.9 382.6,255.1 383.3,255.1 383.3,254.1 384.0,254.1 384.0,253.8 384.7,253.8 384.7,256.2 385.4,256.2 385.4,254.0 386.1,254.0 386.1,253.7 386.8,253.7 386.8,253.5 387.5,253.5 387.5,252.0 388.2,252.0 388.2,252.6 388.9,252.6 388.9,252.8 389.6,252.8 389.6,252.8 390.3,252.8 390.3,251.3 391.0,251.3 391.0,253.1 391.7,253.1 391.7,251.7 392.4,251.7 392.4,251.7 393.1,251.7 393.1,251.3 393.8,251.3 393.8,251.1 394.5,251.1 394.5,251.9 395.2,251.9 395.2,252.0 395.9,252.0 395.9,251.0 396.6,251.0 396.6,251.6 397.3,251.6 397.3,249.0 398.0,249.0 398.0,249.1 398.7,249.1 398.7,249.3 399.4,249.3 399.4,246.3 400.1,246.3 400.1,245.6 400.8,245.6 400.8,243.8 401.5,243.8 401.5,241.2 402.2,241.2 402.2,241.4 402.9,241.4 402.9,243.4 403.6,243.4 403.6,241.6 404.3,241.6 404.3,242.5 405.0,242.5 405.0,240.3 405.7,240.3 405.7,241.0 406.4,241.0 406.4,242.0 407.1,242.0 407.1,243.2 407.8,243.2 407.8,238.0 408.5,238.0 408.5,236.7 409.2,236.7 409.2,235.1 409.9,235.1 409.9,229.0 410.6,229.0 410.6,230.3 411.3,230.3 411.3,227.3 412.0,227.3 412.0,228.4 412.7,228.4 412.7,223.9 413.4,223.9 413.4,224.1 414.1,224.1 414.1,224.1 414.8,224.1 414.8,220.1 415.5,220.1 415.5,217.9 416.2,217.9 416.2,218.1 416.9,218.1 416.9,211.7 417.6,211.7 417.6,212.6 418.3,212.6 418.3,214.1 419.0,214.1 419.0,214.6 419.7,214.6 419.7,206.9 420.4,206.9 420.4,205.7 421.1,205.7 421.1,204.7 421.8,204.7 421.8,206.3 422.5,206.3 422.5,204.3 423.2,204.3 423.2,198.6 423.9,198.6 423.9,197.8 424.6,197.8 424.6,193.4 425.3,193.4 425.3,188.1 426.0,188.1 426.0,183.4 426.7,183.4 426.7,184.7 427.4,184.7 427.4,180.4 428.1,180.4 428.1,177.3 428.8,177.3 428.8,178.4 429.5,178.4 429.5,174.4 430.2,174.4 430.2,180.5 430.9,180.5 430.9,178.4 431.6,178.4 431.6,182.9 432.3,182.9 432.3,181.5 433.0,181.5 433.0,187.6 433.7,187.6 433.7,193.2 434.4,193.2 434.4,196.6 435.1,196.6 435.1,203.3 435.8,203.3 435.8,204.0 436.5,204.0 436.5,210.9 437.2,210.9 437.2,216.4 437.9,216.4 437.9,220.7 438.6,220.7 438.6,226.1 439.3,226.1 439.3,232.9 440.0,232.9 440.0,238.9 440.7,238.9 440.7,240.6 441.4,240.6 441.4,245.7 442.1,245.7 442.1,249.7 442.8,249.7 442.8,252.2 443.5,252.2 443.5,255.6 444.2,255.6 444.2,256.4 444.9,256.4 444.9,258.8 445.6,258.8 445.6,259.7 446.3,259.7 446.3,260.1 447.0,260.1 447.0,260.7 447.7,260.7 447.7,260.9 448.4,260.9 448.4,261.0 449.1,261.0 449.1,261.1 449.8,261.1 449.8,261.1"/>
<polyline fill="none" stroke="#000" stroke-width="1.3" stroke-linejoin="miter" points="293.0,261.1 293.7,261.1 293.7,261.1 294.4,261.1 294.4,261.1 295.1,261.1 295.1,261.1 295.8,261.1 295.8,261.1 296.5,261.1 296.5,261.1 297.2,261.1 297.2,261.1 297.9,261.1 297.9,261.1 298.6,261.1 298.6,261.1 299.3,261.1 299.3,261.1 300.0,261.1 300.0,261.1 300.7,261.1 300.7,261.1 301.4,261.1 301.4,261.1 302.1,261.1 302.1,261.1 302.8,261.1 302.8,261.1 303.5,261.1 303.5,261.1 304.2,261.1 304.2,261.1 304.9,261.1 304.9,261.1 305.6,261.1 305.6,261.1 306.3,261.1 306.3,261.1 307.0,261.1 307.0,261.1 307.7,261.1 307.7,261.1 308.4,261.1 308.4,261.1 309.1,261.1 309.1,261.1 309.8,261.1 309.8,261.1 310.5,261.1 310.5,261.1 311.2,261.1 311.2,261.1 311.9,261.1 311.9,261.1 312.6,261.1 312.6,261.1 313.3,261.1 313.3,261.1 314.0,261.1 314.0,261.1 314.7,261.1 314.7,261.1 315.4,261.1 315.4,261.0 316.1,261.0 316.1,261.1 316.8,261.1 316.8,261.1 317.5,261.1 317.5,261.0 318.2,261.0 318.2,261.1 318.9,261.1 318.9,261.1 319.6,261.1 319.6,261.0 320.3,261.0 320.3,261.1 321.0,261.1 321.0,261.1 321.7,261.1 321.7,261.0 322.4,261.0 322.4,260.7 323.1,260.7 323.1,260.9 323.8,260.9 323.8,261.0 324.5,261.0 324.5,261.1 325.2,261.1 325.2,261.0 325.9,261.0 325.9,260.5 326.6,260.5 326.6,261.1 327.3,261.1 327.3,260.8 328.0,260.8 328.0,260.9 328.7,260.9 328.7,260.7 329.4,260.7 329.4,261.1 330.1,261.1 330.1,260.4 330.8,260.4 330.8,260.7 331.5,260.7 331.5,260.9 332.2,260.9 332.2,260.8 332.9,260.8 332.9,261.0 333.6,261.0 333.6,260.8 334.3,260.8 334.3,260.8 335.0,260.8 335.0,260.6 335.7,260.6 335.7,260.7 336.4,260.7 336.4,260.8 337.1,260.8 337.1,260.6 337.8,260.6 337.8,260.6 338.5,260.6 338.5,260.7 339.2,260.7 339.2,261.1 339.9,261.1 339.9,260.5 340.6,260.5 340.6,260.9 341.3,260.9 341.3,260.9 342.0,260.9 342.0,260.6 342.7,260.6 342.7,260.4 343.4,260.4 343.4,260.1 344.1,260.1 344.1,260.9 344.8,260.9 344.8,259.9 345.5,259.9 345.5,259.8 346.2,259.8 346.2,260.4 346.9,260.4 346.9,260.2 347.6,260.2 347.6,260.3 348.3,260.3 348.3,260.3 349.0,260.3 349.0,260.4 349.7,260.4 349.7,260.5 350.4,260.5 350.4,260.0 351.1,260.0 351.1,259.7 351.8,259.7 351.8,259.1 352.5,259.1 352.5,260.1 353.2,260.1 353.2,260.4 353.9,260.4 353.9,259.5 354.6,259.5 354.6,259.7 355.3,259.7 355.3,259.4 356.0,259.4 356.0,259.6 356.7,259.6 356.7,259.9 357.4,259.9 357.4,259.6 358.1,259.6 358.1,258.9 358.8,258.9 358.8,259.1 359.5,259.1 359.5,259.6 360.2,259.6 360.2,258.7 360.9,258.7 360.9,259.7 361.6,259.7 361.6,259.2 362.3,259.2 362.3,258.8 363.0,258.8 363.0,259.5 363.7,259.5 363.7,259.3 364.4,259.3 364.4,258.7 365.1,258.7 365.1,258.7 365.8,258.7 365.8,258.7 366.5,258.7 366.5,258.7 367.2,258.7 367.2,258.8 367.9,258.8 367.9,258.5 368.6,258.5 368.6,256.4 369.3,256.4 369.3,258.2 370.0,258.2 370.0,256.9 370.7,256.9 370.7,257.9 371.4,257.9 371.4,256.7 372.1,256.7 372.1,256.6 372.8,256.6 372.8,256.9 373.5,256.9 373.5,257.4 374.2,257.4 374.2,257.7 374.9,257.7 374.9,256.1 375.6,256.1 375.6,257.3 376.3,257.3 376.3,257.1 377.0,257.1 377.0,255.2 377.7,255.2 377.7,255.0 378.4,255.0 378.4,255.7 379.1,255.7 379.1,255.7 379.8,255.7 379.8,255.8 380.5,255.8 380.5,254.9 381.2,254.9 381.2,255.2 381.9,255.2 381.9,255.7 382.6,255.7 382.6,254.9 383.3,254.9 383.3,253.8 384.0,253.8 384.0,254.9 384.7,254.9 384.7,254.2 385.4,254.2 385.4,253.0 386.1,253.0 386.1,251.3 386.8,251.3 386.8,252.2 387.5,252.2 387.5,251.9 388.2,251.9 388.2,249.9 388.9,249.9 388.9,252.1 389.6,252.1 389.6,251.4 390.3,251.4 390.3,249.4 391.0,249.4 391.0,248.4 391.7,248.4 391.7,248.3 392.4,248.3 392.4,250.6 393.1,250.6 393.1,246.1 393.8,246.1 393.8,245.1 394.5,245.1 394.5,244.5 395.2,244.5 395.2,242.3 395.9,242.3 395.9,239.6 396.6,239.6 396.6,239.3 397.3,239.3 397.3,238.4 398.0,238.4 398.0,237.2 398.7,237.2 398.7,231.4 399.4,231.4 399.4,229.3 400.1,229.3 400.1,225.9 400.8,225.9 400.8,223.7 401.5,223.7 401.5,218.1 402.2,218.1 402.2,213.4 402.9,213.4 402.9,209.4 403.6,209.4 403.6,206.6 404.3,206.6 404.3,196.1 405.0,196.1 405.0,192.1 405.7,192.1 405.7,195.8 406.4,195.8 406.4,186.7 407.1,186.7 407.1,191.3 407.8,191.3 407.8,186.3 408.5,186.3 408.5,176.0 409.2,176.0 409.2,170.6 409.9,170.6 409.9,167.4 410.6,167.4 410.6,165.2 411.3,165.2 411.3,164.5 412.0,164.5 412.0,179.0 412.7,179.0 412.7,184.7 413.4,184.7 413.4,197.4 414.1,197.4 414.1,204.0 414.8,204.0 414.8,212.2 415.5,212.2 415.5,219.1 416.2,219.1 416.2,221.3 416.9,221.3 416.9,226.7 417.6,226.7 417.6,232.7 418.3,232.7 418.3,236.1 419.0,236.1 419.0,239.3 419.7,239.3 419.7,240.9 420.4,240.9 420.4,242.6 421.1,242.6 421.1,245.7 421.8,245.7 421.8,248.8 422.5,248.8 422.5,249.5 423.2,249.5 423.2,249.9 423.9,249.9 423.9,250.6 424.6,250.6 424.6,253.2 425.3,253.2 425.3,252.9 426.0,252.9 426.0,254.0 426.7,254.0 426.7,255.9 427.4,255.9 427.4,255.7 428.1,255.7 428.1,255.7 428.8,255.7 428.8,256.2 429.5,256.2 429.5,256.5 430.2,256.5 430.2,257.1 430.9,257.1 430.9,256.9 431.6,256.9 431.6,257.9 432.3,257.9 432.3,258.5 433.0,258.5 433.0,257.7 433.7,257.7 433.7,258.6 434.4,258.6 434.4,258.1 435.1,258.1 435.1,259.1 435.8,259.1 435.8,258.3 436.5,258.3 436.5,259.6 437.2,259.6 437.2,259.8 437.9,259.8 437.9,259.2 438.6,259.2 438.6,259.0 439.3,259.0 439.3,260.1 440.0,260.1 440.0,259.5 440.7,259.5 440.7,259.7 441.4,259.7 441.4,260.0 442.1,260.0 442.1,260.4 442.8,260.4 442.8,261.0 443.5,261.0 443.5,260.9 444.2,260.9 444.2,260.8 444.9,260.8 444.9,260.6 445.6,260.6 445.6,260.8 446.3,260.8 446.3,261.0 447.0,261.0 447.0,261.0 447.7,261.0 447.7,261.1 448.4,261.1 448.4,261.1 449.1,261.1 449.1,261.1 449.8,261.1 449.8,261.1"/>
<polyline fill="none" stroke="#000" stroke-width="1.3" stroke-linejoin="miter" points="293.0,261.1 293.7,261.1 293.7,261.1 294.4,261.1 294.4,261.1 295.1,261.1 295.1,261.1 295.8,261.1 295.8,261.1 296.5,261.1 296.5,261.1 297.2,261.1 297.2,261.1 297.9,261.1 297.9,261.1 298.6,261.1 298.6,261.1 299.3,261.1 299.3,261.1 300.0,261.1 300.0,261.1 300.7,261.1 300.7,261.1 301.4,261.1 301.4,261.1 302.1,261.1 302.1,261.1 302.8,261.1 302.8,261.1 303.5,261.1 303.5,261.1 304.2,261.1 304.2,261.1 304.9,261.1 304.9,261.0 305.6,261.0 305.6,261.1 306.3,261.1 306.3,261.1 307.0,261.1 307.0,261.1 307.7,261.1 307.7,261.1 308.4,261.1 308.4,261.1 309.1,261.1 309.1,261.1 309.8,261.1 309.8,261.1 310.5,261.1 310.5,261.1 311.2,261.1 311.2,261.1 311.9,261.1 311.9,261.1 312.6,261.1 312.6,261.0 313.3,261.0 313.3,261.1 314.0,261.1 314.0,261.1 314.7,261.1 314.7,260.9 315.4,260.9 315.4,261.1 316.1,261.1 316.1,261.1 316.8,261.1 316.8,261.1 317.5,261.1 317.5,261.0 318.2,261.0 318.2,261.0 318.9,261.0 318.9,261.1 319.6,261.1 319.6,261.1 320.3,261.1 320.3,261.1 321.0,261.1 321.0,261.1 321.7,261.1 321.7,260.9 322.4,260.9 322.4,261.1 323.1,261.1 323.1,261.1 323.8,261.1 323.8,260.7 324.5,260.7 324.5,261.0 325.2,261.0 325.2,261.1 325.9,261.1 325.9,261.0 326.6,261.0 326.6,261.0 327.3,261.0 327.3,260.9 328.0,260.9 328.0,260.9 328.7,260.9 328.7,261.0 329.4,261.0 329.4,261.0 330.1,261.0 330.1,261.1 330.8,261.1 330.8,260.7 331.5,260.7 331.5,260.6 332.2,260.6 332.2,260.9 332.9,260.9 332.9,260.8 333.6,260.8 333.6,260.9 334.3,260.9 334.3,261.0 335.0,261.0 335.0,261.0 335.7,261.0 335.7,261.0 336.4,261.0 336.4,261.1 337.1,261.1 337.1,261.0 337.8,261.0 337.8,260.8 338.5,260.8 338.5,260.7 339.2,260.7 339.2,260.9 339.9,260.9 339.9,260.9 340.6,260.9 340.6,260.7 341.3,260.7 341.3,260.4 342.0,260.4 342.0,261.0 342.7,261.0 342.7,261.0 343.4,261.0 343.4,260.9 344.1,260.9 344.1,260.7 344.8,260.7 344.8,261.0 345.5,261.0 345.5,260.7 346.2,260.7 346.2,260.9 346.9,260.9 346.9,260.6 347.6,260.6 347.6,260.8 348.3,260.8 348.3,260.8 349.0,260.8 349.0,260.5 349.7,260.5 349.7,261.0 350.4,261.0 350.4,260.8 351.1,260.8 351.1,260.4 351.8,260.4 351.8,260.3 352.5,260.3 352.5,260.4 353.2,260.4 353.2,261.0 353.9,261.0 353.9,260.1 354.6,260.1 354.6,260.1 355.3,260.1 355.3,260.3 356.0,260.3 356.0,260.7 356.7,260.7 356.7,259.7 357.4,259.7 357.4,259.3 358.1,259.3 358.1,259.7 358.8,259.7 358.8,259.3 359.5,259.3 359.5,259.9 360.2,259.9 360.2,259.6 360.9,259.6 360.9,259.8 361.6,259.8 361.6,259.9 362.3,259.9 362.3,259.5 363.0,259.5 363.0,259.7 363.7,259.7 363.7,259.6 364.4,259.6 364.4,259.5 365.1,259.5 365.1,259.3 365.8,259.3 365.8,259.1 366.5,259.1 366.5,258.9 367.2,258.9 367.2,259.4 367.9,259.4 367.9,258.7 368.6,258.7 368.6,259.6 369.3,259.6 369.3,258.6 370.0,258.6 370.0,258.5 370.7,258.5 370.7,259.6 371.4,259.6 371.4,258.6 372.1,258.6 372.1,257.8 372.8,257.8 372.8,258.0 373.5,258.0 373.5,258.4 374.2,258.4 374.2,258.4 374.9,258.4 374.9,257.8 375.6,257.8 375.6,257.7 376.3,257.7 376.3,257.1 377.0,257.1 377.0,257.1 377.7,257.1 377.7,256.4 378.4,256.4 378.4,256.4 379.1,256.4 379.1,256.9 379.8,256.9 379.8,256.8 380.5,256.8 380.5,256.2 381.2,256.2 381.2,255.4 381.9,255.4 381.9,256.1 382.6,256.1 382.6,254.7 383.3,254.7 383.3,256.2 384.0,256.2 384.0,255.1 384.7,255.1 384.7,255.4 385.4,255.4 385.4,254.3 386.1,254.3 386.1,254.1 386.8,254.1 386.8,254.1 387.5,254.1 387.5,254.6 388.2,254.6 388.2,254.1 388.9,254.1 388.9,253.6 389.6,253.6 389.6,252.0 390.3,252.0 390.3,253.1 391.0,253.1 391.0,251.9 391.7,251.9 391.7,251.3 392.4,251.3 392.4,252.6 393.1,252.6 393.1,252.1 393.8,252.1 393.8,253.4 394.5,253.4 394.5,251.9 395.2,251.9 395.2,251.0 395.9,251.0 395.9,252.5 396.6,252.5 396.6,251.2 397.3,251.2 397.3,250.2 398.0,250.2 398.0,249.7 398.7,249.7 398.7,249.3 399.4,249.3 399.4,247.3 400.1,247.3 400.1,246.8 400.8,246.8 400.8,245.2 401.5,245.2 401.5,240.9 402.2,240.9 402.2,243.8 402.9,243.8 402.9,243.7 403.6,243.7 403.6,242.6 404.3,242.6 404.3,242.2 405.0,242.2 405.0,241.3 405.7,241.3 405.7,242.5 406.4,242.5 406.4,241.9 407.1,241.9 407.1,240.5 407.8,240.5 407.8,236.8 408.5,236.8 408.5,234.7 409.2,234.7 409.2,235.7 409.9,235.7 409.9,233.7 410.6,233.7 410.6,231.2 411.3,231.2 411.3,230.9 412.0,230.9 412.0,228.3 412.7,228.3 412.7,224.1 413.4,224.1 413.4,225.9 414.1,225.9 414.1,221.3 414.8,221.3 414.8,218.1 415.5,218.1 415.5,220.4 416.2,220.4 416.2,214.7 416.9,214.7 416.9,215.0 417.6,215.0 417.6,214.3 418.3,214.3 418.3,209.9 419.0,209.9 419.0,210.1 419.7,210.1 419.7,209.6 420.4,209.6 420.4,209.2 421.1,209.2 421.1,208.4 421.8,208.4 421.8,206.3 422.5,206.3 422.5,203.8 423.2,203.8 423.2,199.6 423.9,199.6 423.9,199.2 424.6,199.2 424.6,195.2 425.3,195.2 425.3,193.8 426.0,193.8 426.0,189.0 426.7,189.0 426.7,187.8 427.4,187.8 427.4,182.4 428.1,182.4 428.1,183.3 428.8,183.3 428.8,187.1 429.5,187.1 429.5,183.0 430.2,183.0 430.2,184.1 430.9,184.1 430.9,181.6 431.6,181.6 431.6,185.5 432.3,185.5 432.3,185.8 433.0,185.8 433.0,188.9 433.7,188.9 433.7,195.5 434.4,195.5 434.4,198.5 435.1,198.5 435.1,202.0 435.8,202.0 435.8,209.1 436.5,209.1 436.5,205.3 437.2,205.3 437.2,216.4 437.9,216.4 437.9,225.1 438.6,225.1 438.6,230.6 439.3,230.6 439.3,233.5 440.0,233.5 440.0,239.2 440.7,239.2 440.7,245.0 441.4,245.0 441.4,249.0 442.1,249.0 442.1,250.6 442.8,250.6 442.8,254.0 443.5,254.0 443.5,255.7 444.2,255.7 444.2,257.8 444.9,257.8 444.9,258.4 445.6,258.4 445.6,260.3 446.3,260.3 446.3,260.0 447.0,260.0 447.0,260.8 447.7,260.8 447.7,261.0 448.4,261.0 448.4,260.9 449.1,260.9 449.1,261.1 449.8,261.1 449.8,261.1"/>
<polyline fill="none" stroke="#000" stroke-width="1.9" stroke-linejoin="miter" points="293.0,260.1 293.7,260.1 293.7,260.5 294.4,260.5 294.4,260.3 295.1,260.3 295.1,260.8 295.8,260.8 295.8,259.4 296.5,259.4 296.5,259.1 297.2,259.1 297.2,258.6 297.9,258.6 297.9,257.6 298.6,257.6 298.6,256.9 299.3,256.9 299.3,257.3 300.0,257.3 300.0,256.4 300.7,256.4 300.7,255.2 301.4,255.2 301.4,253.2 302.1,253.2 302.1,252.1 302.8,252.1 302.8,252.5 303.5,252.5 303.5,250.5 304.2,250.5 304.2,246.4 304.9,246.4 304.9,242.9 305.6,242.9 305.6,242.5 306.3,242.5 306.3,240.8 307.0,240.8 307.0,235.5 307.7,235.5 307.7,234.8 308.4,234.8 308.4,230.3 309.1,230.3 309.1,226.0 309.8,226.0 309.8,224.7 310.5,224.7 310.5,222.9 311.2,222.9 311.2,218.8 311.9,218.8 311.9,218.9 312.6,218.9 312.6,215.5 313.3,215.5 313.3,214.1 314.0,214.1 314.0,211.1 314.7,211.1 314.7,209.7 315.4,209.7 315.4,207.2 316.1,207.2 316.1,206.0 316.8,206.0 316.8,203.3 317.5,203.3 317.5,201.9 318.2,201.9 318.2,200.0 318.9,200.0 318.9,196.3 319.6,196.3 319.6,202.8 320.3,202.8 320.3,195.8 321.0,195.8 321.0,199.9 321.7,199.9 321.7,203.0 322.4,203.0 322.4,201.1 323.1,201.1 323.1,201.1 323.8,201.1 323.8,199.3 324.5,199.3 324.5,204.7 325.2,204.7 325.2,202.1 325.9,202.1 325.9,202.7 326.6,202.7 326.6,207.4 327.3,207.4 327.3,206.8 328.0,206.8 328.0,203.5 328.7,203.5 328.7,204.2 329.4,204.2 329.4,204.2 330.1,204.2 330.1,206.5 330.8,206.5 330.8,207.9 331.5,207.9 331.5,209.7 332.2,209.7 332.2,208.7 332.9,208.7 332.9,214.5 333.6,214.5 333.6,214.4 334.3,214.4 334.3,214.8 335.0,214.8 335.0,220.3 335.7,220.3 335.7,216.0 336.4,216.0 336.4,221.8 337.1,221.8 337.1,222.0 337.8,222.0 337.8,219.5 338.5,219.5 338.5,226.8 339.2,226.8 339.2,228.1 339.9,228.1 339.9,226.4 340.6,226.4 340.6,233.0 341.3,233.0 341.3,234.0 342.0,234.0 342.0,234.6 342.7,234.6 342.7,236.7 343.4,236.7 343.4,238.3 344.1,238.3 344.1,240.2 344.8,240.2 344.8,240.3 345.5,240.3 345.5,242.2 346.2,242.2 346.2,244.2 346.9,244.2 346.9,247.0 347.6,247.0 347.6,248.1 348.3,248.1 348.3,250.4 349.0,250.4 349.0,248.5 349.7,248.5 349.7,252.1 350.4,252.1 350.4,250.2 351.1,250.2 351.1,250.2 351.8,250.2 351.8,253.5 352.5,253.5 352.5,253.8 353.2,253.8 353.2,254.2 353.9,254.2 353.9,253.6 354.6,253.6 354.6,255.6 355.3,255.6 355.3,255.5 356.0,255.5 356.0,256.2 356.7,256.2 356.7,256.3 357.4,256.3 357.4,255.4 358.1,255.4 358.1,257.1 358.8,257.1 358.8,256.6 359.5,256.6 359.5,256.6 360.2,256.6 360.2,256.4 360.9,256.4 360.9,257.9 361.6,257.9 361.6,256.5 362.3,256.5 362.3,257.1 363.0,257.1 363.0,256.9 363.7,256.9 363.7,257.4 364.4,257.4 364.4,258.4 365.1,258.4 365.1,257.9 365.8,257.9 365.8,257.0 366.5,257.0 366.5,257.5 367.2,257.5 367.2,257.6 367.9,257.6 367.9,256.5 368.6,256.5 368.6,256.3 369.3,256.3 369.3,257.7 370.0,257.7 370.0,256.5 370.7,256.5 370.7,258.9 371.4,258.9 371.4,258.9 372.1,258.9 372.1,257.2 372.8,257.2 372.8,257.9 373.5,257.9 373.5,257.5 374.2,257.5 374.2,257.5 374.9,257.5 374.9,257.9 375.6,257.9 375.6,257.5 376.3,257.5 376.3,257.8 377.0,257.8 377.0,258.8 377.7,258.8 377.7,257.8 378.4,257.8 378.4,257.9 379.1,257.9 379.1,257.0 379.8,257.0 379.8,258.7 380.5,258.7 380.5,258.0 381.2,258.0 381.2,258.3 381.9,258.3 381.9,258.2 382.6,258.2 382.6,257.2 383.3,257.2 383.3,258.0 384.0,258.0 384.0,258.5 384.7,258.5 384.7,258.2 385.4,258.2 385.4,257.9 386.1,257.9 386.1,258.8 386.8,258.8 386.8,258.5 387.5,258.5 387.5,257.5 388.2,257.5 388.2,257.9 388.9,257.9 388.9,258.5 389.6,258.5 389.6,258.7 390.3,258.7 390.3,258.6 391.0,258.6 391.0,259.3 391.7,259.3 391.7,258.1 392.4,258.1 392.4,258.4 393.1,258.4 393.1,258.6 393.8,258.6 393.8,259.3 394.5,259.3 394.5,259.0 395.2,259.0 395.2,258.5 395.9,258.5 395.9,258.6 396.6,258.6 396.6,259.0 397.3,259.0 397.3,258.6 398.0,258.6 398.0,258.4 398.7,258.4 398.7,259.2 399.4,259.2 399.4,259.2 400.1,259.2 400.1,259.4 400.8,259.4 400.8,259.6 401.5,259.6 401.5,258.7 402.2,258.7 402.2,258.9 402.9,258.9 402.9,259.0 403.6,259.0 403.6,259.7 404.3,259.7 404.3,259.7 405.0,259.7 405.0,259.3 405.7,259.3 405.7,259.5 406.4,259.5 406.4,259.3 407.1,259.3 407.1,259.7 407.8,259.7 407.8,259.1 408.5,259.1 408.5,258.7 409.2,258.7 409.2,258.8 409.9,258.8 409.9,258.8 410.6,258.8 410.6,259.5 411.3,259.5 411.3,259.2 412.0,259.2 412.0,259.8 412.7,259.8 412.7,259.3 413.4,259.3 413.4,259.8 414.1,259.8 414.1,259.9 414.8,259.9 414.8,260.0 415.5,260.0 415.5,259.5 416.2,259.5 416.2,259.7 416.9,259.7 416.9,259.8 417.6,259.8 417.6,260.3 418.3,260.3 418.3,259.9 419.0,259.9 419.0,260.5 419.7,260.5 419.7,259.5 420.4,259.5 420.4,260.1 421.1,260.1 421.1,260.0 421.8,260.0 421.8,260.2 422.5,260.2 422.5,260.7 423.2,260.7 423.2,260.6 423.9,260.6 423.9,260.2 424.6,260.2 424.6,259.7 425.3,259.7 425.3,260.6 426.0,260.6 426.0,260.5 426.7,260.5 426.7,260.3 427.4,260.3 427.4,260.9 428.1,260.9 428.1,260.9 428.8,260.9 428.8,260.5 429.5,260.5 429.5,260.4 430.2,260.4 430.2,260.6 430.9,260.6 430.9,260.0 431.6,260.0 431.6,260.5 432.3,260.5 432.3,260.4 433.0,260.4 433.0,260.1 433.7,260.1 433.7,260.1 434.4,260.1 434.4,261.0 435.1,261.0 435.1,260.7 435.8,260.7 435.8,260.3 436.5,260.3 436.5,261.0 437.2,261.0 437.2,260.9 437.9,260.9 437.9,261.1 438.6,261.1 438.6,261.1 439.3,261.1 439.3,261.1 440.0,261.1 440.0,260.8 440.7,260.8 440.7,260.5 441.4,260.5 441.4,260.5 442.1,260.5 442.1,260.9 442.8,260.9 442.8,261.1 443.5,261.1 443.5,261.0 444.2,261.0 444.2,261.0 444.9,261.0 444.9,260.9 445.6,260.9 445.6,261.0 446.3,261.0 446.3,261.1 447.0,261.1 447.0,260.9 447.7,260.9 447.7,261.1 448.4,261.1 448.4,261.1 449.1,261.1 449.1,261.0 449.8,261.0 449.8,261.0 450.5,261.0 450.5,260.8 451.2,260.8 451.2,261.1 451.9,261.1 451.9,261.0 452.6,261.0 452.6,261.0 453.3,261.0 453.3,261.1 454.0,261.1 454.0,261.0 454.7,261.0 454.7,261.1 455.4,261.1 455.4,261.0 456.1,261.0 456.1,261.1 456.8,261.1 456.8,261.1 457.5,261.1 457.5,261.1 458.2,261.1 458.2,261.1 458.9,261.1 458.9,261.1 459.6,261.1 459.6,261.1 460.3,261.1 460.3,261.1 461.0,261.1 461.0,261.1 461.7,261.1 461.7,261.1 462.4,261.1 462.4,261.1 463.1,261.1 463.1,261.1 463.8,261.1 463.8,261.1 464.5,261.1 464.5,261.1 465.2,261.1 465.2,261.1 465.9,261.1 465.9,261.1 466.6,261.1 466.6,261.1 467.3,261.1 467.3,261.1 468.0,261.1 468.0,261.1 468.7,261.1 468.7,261.1 469.4,261.1 469.4,261.1 470.1,261.1 470.1,261.1 470.8,261.1 470.8,261.1 471.5,261.1 471.5,261.1 472.2,261.1 472.2,261.1 472.9,261.1 472.9,261.1"/>
<line x1="292.8" y1="126.5" x2="292.8" y2="264.4" stroke="#000" stroke-width="1.2"/>
<line x1="292.2" y1="261.4" x2="474.1" y2="261.4" stroke="#000" stroke-width="1.3"/>
<text class="s" x="352" y="205.5" font-size="11.5" textLength="41.5" lengthAdjust="spacingAndGlyphs">Control</text>
<text class="s" x="352" y="217.5" font-size="11.5" textLength="25.3" lengthAdjust="spacingAndGlyphs">mAb</text>
<line x1="349.5" y1="200.5" x2="340.5" y2="200.5" stroke="#000" stroke-width="2.0"/>
<path d="M330.4,200.5 Q337.4,197.9 344.4,194.5 L340.5,200.5 L344.4,206.5 Q337.4,203.1 330.4,200.5Z" fill="#000"/>
<text class="s" x="404.6" y="129.6" font-size="11.5" textLength="18.5" lengthAdjust="spacingAndGlyphs">WT</text>
<text class="s" x="404.6" y="141" font-size="11.5" textLength="49" lengthAdjust="spacingAndGlyphs">CHO-131</text>
<line x1="415.5" y1="145.3" x2="413.3" y2="153.6" stroke="#000" stroke-width="2.0"/>
<path d="M410.8,163.4 Q410.0,156.0 408.5,148.3 L413.3,153.6 L420.1,151.4 Q415.1,157.3 410.8,163.4Z" fill="#000"/>
<text class="s" x="392.5" y="150.4" font-size="11.5" text-anchor="end" textLength="25" lengthAdjust="spacingAndGlyphs">ΔCD</text>
<text class="s" x="392.5" y="163" font-size="11.5" text-anchor="end" textLength="49" lengthAdjust="spacingAndGlyphs">CHO-131</text>
<line x1="396.4" y1="166.9" x2="401.1" y2="175.4" stroke="#000" stroke-width="2.0"/>
<path d="M406.0,184.2 Q400.3,179.4 394.0,174.9 L401.1,175.4 L404.5,169.0 Q404.9,176.8 406.0,184.2Z" fill="#000"/>
<text class="s" x="450.8" y="172" font-size="11.5" textLength="18.5" lengthAdjust="spacingAndGlyphs">WT</text>
<text class="s" x="450.8" y="183.5" font-size="11.5" textLength="57" lengthAdjust="spacingAndGlyphs">HECA-452</text>
<line x1="447.5" y1="176.4" x2="440.1" y2="179.9" stroke="#000" stroke-width="2.0"/>
<path d="M431.0,184.2 Q436.2,178.8 441.1,172.8 L440.1,179.9 L446.2,183.6 Q438.5,183.6 431.0,184.2Z" fill="#000"/>
<text class="s" x="457.5" y="213" font-size="11.5" textLength="25" lengthAdjust="spacingAndGlyphs">ΔCD</text>
<text class="s" x="457.5" y="225" font-size="11.5" textLength="57" lengthAdjust="spacingAndGlyphs">HECA-452</text>
<line x1="456.7" y1="210.2" x2="447.8" y2="208.0" stroke="#000" stroke-width="2.0"/>
<path d="M438.0,205.6 Q445.4,204.7 453.0,203.1 L447.8,208.0 L450.2,214.8 Q444.2,209.8 438.0,205.6Z" fill="#000"/>
<text class="s" x="-0.3" y="317.8" font-size="17.6" style="stroke-width:0.15px">D</text>
<line x1="36.5" y1="323.4" x2="36.5" y2="514" stroke="#000" stroke-width="1.1"/>
<line x1="33.2" y1="511.1" x2="246" y2="511.1" stroke="#000" stroke-width="1.1"/>
<line x1="33.2" y1="511.1" x2="36.5" y2="511.1" stroke="#000" stroke-width="1.1"/>
<text class="s" x="30.6" y="515.4" font-size="11.8" text-anchor="end">0</text>
<line x1="33.2" y1="473.56" x2="36.5" y2="473.56" stroke="#000" stroke-width="1.1"/>
<text class="s" x="30.6" y="477.6" font-size="11.8" text-anchor="end">5</text>
<line x1="33.2" y1="436.02000000000004" x2="36.5" y2="436.02000000000004" stroke="#000" stroke-width="1.1"/>
<text class="s" x="30.6" y="439.7" font-size="11.8" text-anchor="end">10</text>
<line x1="33.2" y1="398.48" x2="36.5" y2="398.48" stroke="#000" stroke-width="1.1"/>
<text class="s" x="30.6" y="401.9" font-size="11.8" text-anchor="end">15</text>
<line x1="33.2" y1="360.94000000000005" x2="36.5" y2="360.94000000000005" stroke="#000" stroke-width="1.1"/>
<text class="s" x="30.6" y="364.0" font-size="11.8" text-anchor="end">20</text>
<line x1="33.2" y1="323.40000000000003" x2="36.5" y2="323.40000000000003" stroke="#000" stroke-width="1.1"/>
<text class="s" x="30.6" y="326.2" font-size="11.8" text-anchor="end">25</text>
<line x1="88.6" y1="511.1" x2="88.6" y2="514.5" stroke="#000" stroke-width="1.1"/>
<line x1="140.5" y1="511.1" x2="140.5" y2="514.5" stroke="#000" stroke-width="1.1"/>
<line x1="192.4" y1="511.1" x2="192.4" y2="514.5" stroke="#000" stroke-width="1.1"/>
<line x1="245.5" y1="511.1" x2="245.5" y2="514.5" stroke="#000" stroke-width="1.1"/>
<text class="s" font-size="11.5" transform="translate(12.3 469.6) rotate(-90)" textLength="98" lengthAdjust="spacingAndGlyphs">Cells/field of view</text>
<line x1="53.9" y1="375.6" x2="53.9" y2="354.4" stroke="#000" stroke-width="1.1"/>
<line x1="50.6" y1="354.4" x2="57.199999999999996" y2="354.4" stroke="#000" stroke-width="1.2"/>
<line x1="68.9" y1="373.7" x2="68.9" y2="357.7" stroke="#000" stroke-width="1.1"/>
<line x1="65.60000000000001" y1="357.7" x2="72.2" y2="357.7" stroke="#000" stroke-width="1.2"/>
<rect x="46.4" y="375.6" width="15.0" height="135.5" fill="#000" stroke="#000" stroke-width="0.8"/>
<rect x="61.4" y="373.7" width="15.0" height="137.40000000000003" fill="#727272" stroke="#000" stroke-width="1"/>
<line x1="107.5" y1="415.4" x2="107.5" y2="396.3" stroke="#000" stroke-width="1.1"/>
<line x1="104.2" y1="396.3" x2="110.8" y2="396.3" stroke="#000" stroke-width="1.2"/>
<line x1="122.5" y1="421.5" x2="122.5" y2="403.5" stroke="#000" stroke-width="1.1"/>
<line x1="119.2" y1="403.5" x2="125.8" y2="403.5" stroke="#000" stroke-width="1.2"/>
<rect x="100" y="415.4" width="15.0" height="95.70000000000005" fill="#000" stroke="#000" stroke-width="0.8"/>
<rect x="115.0" y="421.5" width="15.0" height="89.60000000000002" fill="#727272" stroke="#000" stroke-width="1"/>
<line x1="160.3" y1="473.2" x2="160.3" y2="462.5" stroke="#000" stroke-width="1.1"/>
<line x1="157.0" y1="462.5" x2="163.60000000000002" y2="462.5" stroke="#000" stroke-width="1.2"/>
<line x1="175.3" y1="473.2" x2="175.3" y2="464.6" stroke="#000" stroke-width="1.1"/>
<line x1="172.0" y1="464.6" x2="178.60000000000002" y2="464.6" stroke="#000" stroke-width="1.2"/>
<rect x="152.8" y="473.2" width="15.0" height="37.900000000000034" fill="#000" stroke="#000" stroke-width="0.8"/>
<rect x="167.8" y="473.2" width="15.0" height="37.900000000000034" fill="#727272" stroke="#000" stroke-width="1"/>
<line x1="212.8" y1="504.5" x2="212.8" y2="501.8" stroke="#000" stroke-width="1.1"/>
<line x1="209.5" y1="501.8" x2="216.10000000000002" y2="501.8" stroke="#000" stroke-width="1.2"/>
<line x1="227.8" y1="502.3" x2="227.8" y2="499" stroke="#000" stroke-width="1.1"/>
<line x1="224.5" y1="499" x2="231.10000000000002" y2="499" stroke="#000" stroke-width="1.2"/>
<rect x="205.3" y="504.5" width="15.0" height="6.600000000000023" fill="#000" stroke="#000" stroke-width="0.8"/>
<rect x="220.3" y="502.3" width="15.0" height="8.800000000000011" fill="#727272" stroke="#000" stroke-width="1"/>
<text class="s" x="62.9" y="524.8" font-size="11.9" text-anchor="middle">0.25</text>
<text class="s" x="115" y="524.8" font-size="11.9" text-anchor="middle">0.5</text>
<text class="s" x="166.3" y="524.8" font-size="11.9" text-anchor="middle">1</text>
<text class="s" x="223" y="524.8" font-size="11.9" text-anchor="middle">2</text>
<text class="s" font-size="12"><tspan x="60.7" y="540" textLength="148.2" lengthAdjust="spacingAndGlyphs">Wall shear stress (dyn/cm</tspan><tspan x="209.1" y="537.8" font-size="8">2</tspan><tspan x="215.4" y="540">)</tspan></text>
<rect x="180" y="332.7" width="10.5" height="10" fill="#000" stroke="#000" stroke-width="0.8"/>
<rect x="180" y="346.2" width="10.5" height="10" fill="#7d7d7d" stroke="#000" stroke-width="1"/>
<text class="s" x="195" y="342" font-size="11.5" textLength="17.5" lengthAdjust="spacingAndGlyphs">WT</text>
<text class="s" x="195" y="356.2" font-size="11.5" textLength="23" lengthAdjust="spacingAndGlyphs">ΔCD</text>
<text class="s" x="260" y="317.6" font-size="17.6" style="stroke-width:0.15px">E</text>
<line x1="303.4" y1="325.4" x2="303.4" y2="516" stroke="#000" stroke-width="1.1"/>
<line x1="300.7" y1="513.3" x2="512.5" y2="513.3" stroke="#000" stroke-width="1.1"/>
<line x1="300.7" y1="513.3" x2="303.4" y2="513.3" stroke="#000" stroke-width="1.1"/>
<text class="s" x="297.6" y="517.4" font-size="11.8" text-anchor="end">0</text>
<line x1="300.7" y1="475.71999999999997" x2="303.4" y2="475.71999999999997" stroke="#000" stroke-width="1.1"/>
<text class="s" x="297.6" y="479.5" font-size="11.8" text-anchor="end">5</text>
<line x1="300.7" y1="438.14" x2="303.4" y2="438.14" stroke="#000" stroke-width="1.1"/>
<text class="s" x="297.6" y="441.6" font-size="11.8" text-anchor="end">10</text>
<line x1="300.7" y1="400.55999999999995" x2="303.4" y2="400.55999999999995" stroke="#000" stroke-width="1.1"/>
<text class="s" x="297.6" y="403.6" font-size="11.8" text-anchor="end">15</text>
<line x1="300.7" y1="362.97999999999996" x2="303.4" y2="362.97999999999996" stroke="#000" stroke-width="1.1"/>
<text class="s" x="297.6" y="365.7" font-size="11.8" text-anchor="end">20</text>
<line x1="300.7" y1="325.4" x2="303.4" y2="325.4" stroke="#000" stroke-width="1.1"/>
<text class="s" x="297.6" y="327.8" font-size="11.8" text-anchor="end">25</text>
<line x1="355.54999999999995" y1="513.3" x2="355.54999999999995" y2="516.5" stroke="#000" stroke-width="1.1"/>
<line x1="407.7" y1="513.3" x2="407.7" y2="516.5" stroke="#000" stroke-width="1.1"/>
<line x1="459.84999999999997" y1="513.3" x2="459.84999999999997" y2="516.5" stroke="#000" stroke-width="1.1"/>
<line x1="512.0" y1="513.3" x2="512.0" y2="516.5" stroke="#000" stroke-width="1.1"/>
<text class="s" x="303.6" y="530.8" font-size="11.9" text-anchor="middle">0</text>
<text class="s" x="355.7" y="530.8" font-size="11.9" text-anchor="middle">5</text>
<text class="s" x="407.9" y="530.8" font-size="11.9" text-anchor="middle">10</text>
<text class="s" x="460.0" y="530.8" font-size="11.9" text-anchor="middle">15</text>
<text class="s" x="506.6" y="530.8" font-size="11.9">20</text>
<text class="s" font-size="12" transform="translate(280 477.4) rotate(-90)" textLength="125" lengthAdjust="spacingAndGlyphs">Rolling velocity (μm/s)</text>
<text class="s" font-size="12"><tspan x="334.8" y="543.5" textLength="148.8" lengthAdjust="spacingAndGlyphs">Wall shear stress (dyn/cm</tspan><tspan x="484.2" y="542.3" font-size="8">2</tspan><tspan x="489.8" y="543.5">)</tspan></text>
<line x1="306.7" y1="470.0" x2="306.7" y2="495.0" stroke="#000" stroke-width="1.05"/>
<line x1="303.8" y1="470.0" x2="309.59999999999997" y2="470.0" stroke="#000" stroke-width="1.1"/>
<line x1="303.8" y1="495.0" x2="309.59999999999997" y2="495.0" stroke="#000" stroke-width="1.1"/>
<line x1="306.7" y1="467.5" x2="306.7" y2="492.6" stroke="#000" stroke-width="1.05"/>
<line x1="303.8" y1="467.5" x2="309.59999999999997" y2="467.5" stroke="#000" stroke-width="1.1"/>
<line x1="303.8" y1="492.6" x2="309.59999999999997" y2="492.6" stroke="#000" stroke-width="1.1"/>
<line x1="309.5" y1="443.0" x2="309.5" y2="467.5" stroke="#000" stroke-width="1.05"/>
<line x1="306.6" y1="443.0" x2="312.4" y2="443.0" stroke="#000" stroke-width="1.1"/>
<line x1="306.6" y1="467.5" x2="312.4" y2="467.5" stroke="#000" stroke-width="1.1"/>
<line x1="309.5" y1="436.7" x2="309.5" y2="465.0" stroke="#000" stroke-width="1.05"/>
<line x1="306.6" y1="436.7" x2="312.4" y2="436.7" stroke="#000" stroke-width="1.1"/>
<line x1="306.6" y1="465.0" x2="312.4" y2="465.0" stroke="#000" stroke-width="1.1"/>
<line x1="314.6" y1="426.0" x2="314.6" y2="456.4" stroke="#000" stroke-width="1.05"/>
<line x1="311.70000000000005" y1="426.0" x2="317.5" y2="426.0" stroke="#000" stroke-width="1.1"/>
<line x1="311.70000000000005" y1="456.4" x2="317.5" y2="456.4" stroke="#000" stroke-width="1.1"/>
<line x1="314.6" y1="415.2" x2="314.6" y2="454.0" stroke="#000" stroke-width="1.05"/>
<line x1="311.70000000000005" y1="415.2" x2="317.5" y2="415.2" stroke="#000" stroke-width="1.1"/>
<line x1="311.70000000000005" y1="454.0" x2="317.5" y2="454.0" stroke="#000" stroke-width="1.1"/>
<line x1="325.2" y1="409.5" x2="325.2" y2="443.3" stroke="#000" stroke-width="1.05"/>
<line x1="322.3" y1="409.5" x2="328.09999999999997" y2="409.5" stroke="#000" stroke-width="1.1"/>
<line x1="322.3" y1="443.3" x2="328.09999999999997" y2="443.3" stroke="#000" stroke-width="1.1"/>
<line x1="325.2" y1="402.5" x2="325.2" y2="447.7" stroke="#000" stroke-width="1.05"/>
<line x1="322.3" y1="402.5" x2="328.09999999999997" y2="402.5" stroke="#000" stroke-width="1.1"/>
<line x1="322.3" y1="447.7" x2="328.09999999999997" y2="447.7" stroke="#000" stroke-width="1.1"/>
<line x1="346.0" y1="394.8" x2="346.0" y2="435.4" stroke="#000" stroke-width="1.05"/>
<line x1="343.1" y1="394.8" x2="348.9" y2="394.8" stroke="#000" stroke-width="1.1"/>
<line x1="343.1" y1="435.4" x2="348.9" y2="435.4" stroke="#000" stroke-width="1.1"/>
<line x1="346.0" y1="383.0" x2="346.0" y2="439.4" stroke="#000" stroke-width="1.05"/>
<line x1="343.1" y1="383.0" x2="348.9" y2="383.0" stroke="#000" stroke-width="1.1"/>
<line x1="343.1" y1="439.4" x2="348.9" y2="439.4" stroke="#000" stroke-width="1.1"/>
<line x1="387.2" y1="371.4" x2="387.2" y2="429.8" stroke="#000" stroke-width="1.05"/>
<line x1="384.3" y1="371.4" x2="390.09999999999997" y2="371.4" stroke="#000" stroke-width="1.1"/>
<line x1="384.3" y1="429.8" x2="390.09999999999997" y2="429.8" stroke="#000" stroke-width="1.1"/>
<line x1="387.2" y1="371.4" x2="387.2" y2="433.0" stroke="#000" stroke-width="1.05"/>
<line x1="384.3" y1="371.4" x2="390.09999999999997" y2="371.4" stroke="#000" stroke-width="1.1"/>
<line x1="384.3" y1="433.0" x2="390.09999999999997" y2="433.0" stroke="#000" stroke-width="1.1"/>
<line x1="471.0" y1="321.0" x2="471.0" y2="385.5" stroke="#000" stroke-width="1.05"/>
<line x1="468.1" y1="321.0" x2="473.9" y2="321.0" stroke="#000" stroke-width="1.1"/>
<line x1="468.1" y1="385.5" x2="473.9" y2="385.5" stroke="#000" stroke-width="1.1"/>
<line x1="471.0" y1="313.8" x2="471.0" y2="388.3" stroke="#000" stroke-width="1.05"/>
<line x1="468.1" y1="313.8" x2="473.9" y2="313.8" stroke="#000" stroke-width="1.1"/>
<line x1="468.1" y1="388.3" x2="473.9" y2="388.3" stroke="#000" stroke-width="1.1"/>
<rect x="302.0" y="478.3" width="9.4" height="9.4" fill="#fff" stroke="#000" stroke-width="1.1"/>
<polygon points="306.7,479.1 310.8,483.8 306.7,488.5 302.6,483.8" fill="#fff" stroke="#000" stroke-width="1.1"/>
<rect x="304.8" y="447.8" width="9.4" height="9.4" fill="#fff" stroke="#000" stroke-width="1.1"/>
<polygon points="309.5,450.6 313.6,455.3 309.5,460.0 305.4,455.3" fill="#fff" stroke="#000" stroke-width="1.1"/>
<rect x="309.9" y="434.3" width="9.4" height="9.4" fill="#fff" stroke="#000" stroke-width="1.1"/>
<polygon points="314.6,438.8 318.7,443.5 314.6,448.2 310.5,443.5" fill="#fff" stroke="#000" stroke-width="1.1"/>
<rect x="320.5" y="426.5" width="9.4" height="9.4" fill="#fff" stroke="#000" stroke-width="1.1"/>
<polygon points="325.2,422.3 329.3,427.0 325.2,431.7 321.1,427.0" fill="#fff" stroke="#000" stroke-width="1.1"/>
<rect x="341.3" y="408.7" width="9.4" height="9.4" fill="#fff" stroke="#000" stroke-width="1.1"/>
<polygon points="346.0,413.6 350.1,418.3 346.0,423.0 341.9,418.3" fill="#fff" stroke="#000" stroke-width="1.1"/>
<rect x="382.5" y="399.1" width="9.4" height="9.4" fill="#fff" stroke="#000" stroke-width="1.1"/>
<polygon points="387.2,403.0 391.3,407.7 387.2,412.4 383.1,407.7" fill="#fff" stroke="#000" stroke-width="1.1"/>
<rect x="466.3" y="351.7" width="9.4" height="9.4" fill="#fff" stroke="#000" stroke-width="1.1"/>
<polygon points="471.0,343.0 475.1,347.7 471.0,352.4 466.9,347.7" fill="#fff" stroke="#000" stroke-width="1.1"/>
<polygon points="460,440.8 464.3,446 460,451.2 455.7,446" fill="#fff" stroke="#000" stroke-width="1.1"/>
<text class="s" x="469.4" y="449.6" font-size="11.5" textLength="17.5" lengthAdjust="spacingAndGlyphs">WT</text>
<rect x="455.4" y="455.4" width="9.4" height="9.4" fill="#fff" stroke="#000" stroke-width="1.1"/>
<text class="s" x="466.7" y="463.6" font-size="11.5" textLength="24.5" lengthAdjust="spacingAndGlyphs">ΔCD</text>
</svg>
</body></html>
